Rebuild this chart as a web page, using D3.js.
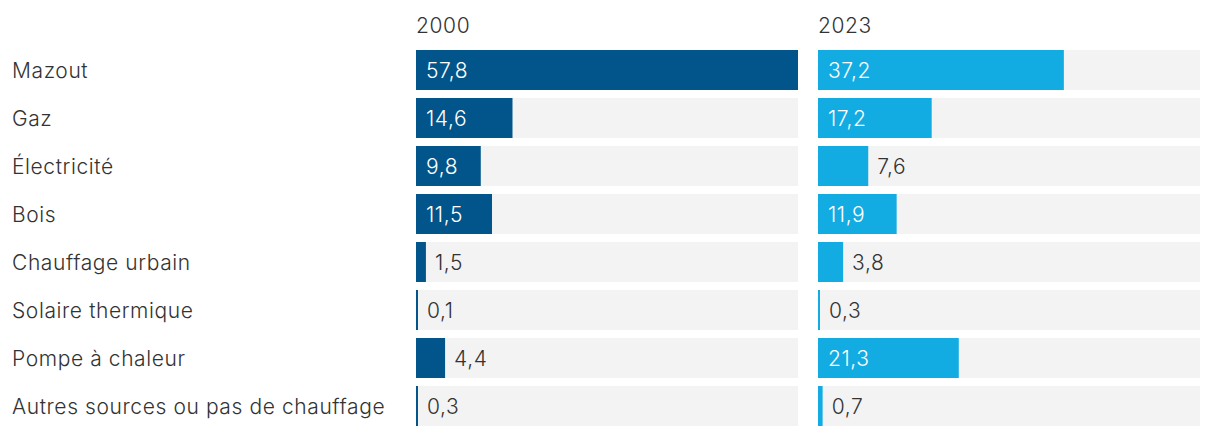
<!DOCTYPE html>
<html><head><meta charset="utf-8">
<script src="https://cdn.jsdelivr.net/npm/d3@7"></script>
<style>
body{margin:0;background:#fff;}
text{font-family:Inter,Roboto,"Noto Sans",sans-serif;font-weight:300;letter-spacing:0.6px;}
</style></head>
<body><svg id="c" width="1220" height="436"></svg>
<script>
const categories = ["Mazout","Gaz","Électricité","Bois","Chauffage urbain","Solaire thermique","Pompe à chaleur","Autres sources ou pas de chauffage"];
const years = ["2000","2023"];
const values2000 = [57.8,14.6,9.8,11.5,1.5,0.1,4.4,0.3];
const values2023 = [37.2,17.2,7.6,11.9,3.8,0.3,21.3,0.7];
const colors = ["#01558a","#12ace3"];

const svg = d3.select("#c");
const panelX = [416, 818];
const panelW = 382;
const yb = d3.scaleBand().domain(categories).range([50, 50+48*8-8]).paddingInner(0.1667);
const x = d3.scaleLinear().domain([0, 57.8]).range([0, panelW]);
const fmt = v => d3.format(".1f")(v).replace(".", ",");
const fs = 21;
const barW = v => Math.max(2, x(v));

svg.selectAll("text.cat").data(categories).enter().append("text")
  .attr("class","cat").attr("x",12)
  .attr("y", d => yb(d)+yb.bandwidth()/2)
  .attr("dy","0.36em").attr("font-size",fs).attr("fill","#333").text(d=>d);

[values2000, values2023].forEach((vals, i) => {
  const g = svg.append("g").attr("transform", `translate(${panelX[i]},0)`);
  g.append("text").attr("x",0).attr("y",33).attr("font-size",fs).attr("fill","#333").text(years[i]);
  g.selectAll("rect.bg").data(categories).enter().append("rect")
    .attr("x",0).attr("y",d=>yb(d)).attr("width",panelW).attr("height",yb.bandwidth()).attr("fill","#f3f3f3");
  const data = categories.map((c,j)=>({c, v: vals[j]}));
  g.selectAll("rect.bar").data(data).enter().append("rect")
    .attr("x",0).attr("y",d=>yb(d.c)).attr("width",d=>barW(d.v)).attr("height",yb.bandwidth()).attr("fill",colors[i]);
  g.selectAll("text.val").data(data).enter().append("text")
    .attr("x", d => x(d.v) > 55 ? 10 : barW(d.v) + 9)
    .attr("y", d => yb(d.c)+yb.bandwidth()/2)
    .attr("dy","0.36em").attr("font-size",fs)
    .attr("fill", d => x(d.v) > 55 ? "#fff" : "#333")
    .text(d => fmt(d.v));
});
</script></body></html>
